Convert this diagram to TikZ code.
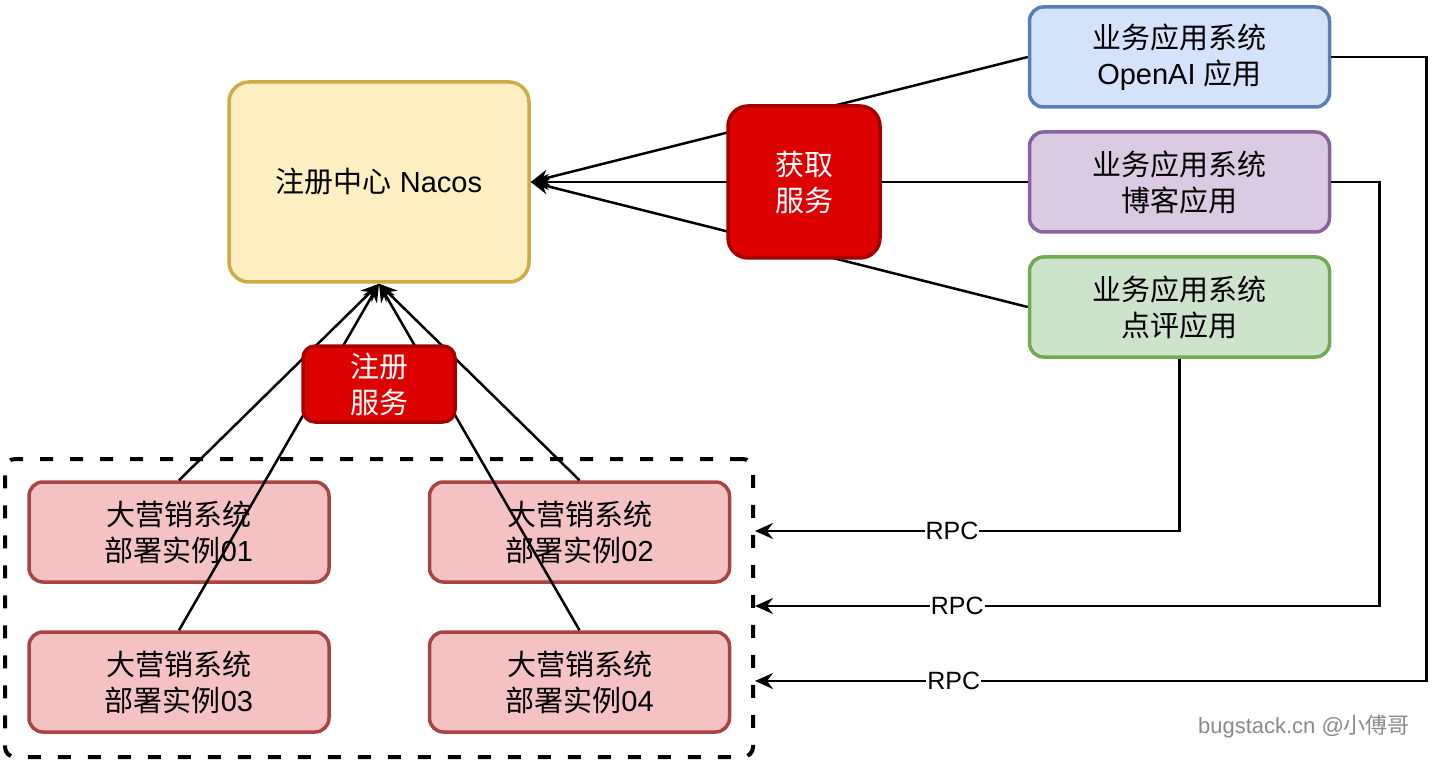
\documentclass[tikz,border=0pt]{standalone}
\usepackage{fontspec}
\setmainfont{Liberation Sans}
\newfontfamily\cjk{Noto Sans CJK SC}
\usetikzlibrary{arrows.meta}
\definecolor{nacosfill}{HTML}{FEEFC3}
\definecolor{nacosdraw}{HTML}{CFAB46}
\definecolor{bluefill}{HTML}{D4E3FA}
\definecolor{bluedraw}{HTML}{5B7DB5}
\definecolor{purplefill}{HTML}{DACAE2}
\definecolor{purpledraw}{HTML}{8A629D}
\definecolor{greenfill}{HTML}{CDE3CC}
\definecolor{greendraw}{HTML}{72A954}
\definecolor{pinkfill}{HTML}{F4C2C2}
\definecolor{pinkdraw}{HTML}{AA4444}
\definecolor{redfill}{HTML}{DD0000}
\definecolor{reddraw}{HTML}{A50000}
\definecolor{footgray}{HTML}{8A8A8A}
\begin{document}
\begin{tikzpicture}[x=1pt,y=-1pt,
  txt/.style={font=\fontsize{29}{36}\selectfont, align=center, inner sep=0pt},
  box/.style={txt, draw, rounded corners=14pt, line width=3.5pt, minimum width=300pt, minimum height=100pt},
  redbox/.style={txt, draw=reddraw, fill=redfill, text=white, line width=3.5pt},
  conn/.style={line width=2.5pt, -{Stealth[length=18pt,width=16pt,inset=6pt]}},
  rpc/.style={fill=white, inner sep=1pt, font=\fontsize{25}{30}\selectfont},
  cluster/.style={draw, dashed, dash pattern=on 13pt off 17pt, line width=4pt, rounded corners=10pt, minimum width=748pt, minimum height=298pt}
]
\useasboundingbox (0,0) rectangle (1436,770);
\fill[white] (0,0) rectangle (1436,770);

% cluster
\node[cluster] (cl) at (379,608) {};

% Nacos
\node[box, fill=nacosfill, draw=nacosdraw, minimum height=200pt, rounded corners=20pt] (nacos) at (379,182) {{\cjk 注册中心} Nacos};

% business apps
\node[box, fill=bluefill, draw=bluedraw] (oa) at (1179.5,57) {{\cjk 业务应用系统}\\OpenAI {\cjk 应用}};
\node[box, fill=purplefill, draw=purpledraw] (bp) at (1179.5,182) {{\cjk 业务应用系统}\\{\cjk 博客应用}};
\node[box, fill=greenfill, draw=greendraw] (dp) at (1179.5,307) {{\cjk 业务应用系统}\\{\cjk 点评应用}};

% instances
\node[box, fill=pinkfill, draw=pinkdraw] (i1) at (179,532) {{\cjk 大营销系统}\\{\cjk 部署实例}01};
\node[box, fill=pinkfill, draw=pinkdraw] (i2) at (579.5,532) {{\cjk 大营销系统}\\{\cjk 部署实例}02};
\node[box, fill=pinkfill, draw=pinkdraw] (i3) at (179,682) {{\cjk 大营销系统}\\{\cjk 部署实例}03};
\node[box, fill=pinkfill, draw=pinkdraw] (i4) at (579.5,682) {{\cjk 大营销系统}\\{\cjk 部署实例}04};

% registration connectors
\draw[conn] (i1.north) -- (nacos.south);
\draw[conn] (i3.north) -- (nacos.south);
\draw[conn] (i2.north) -- (nacos.south);
\draw[conn] (i4.north) -- (nacos.south);

% discovery connectors
\draw[conn] (oa.west) -- (nacos.east);
\draw[conn] (bp.west) -- (nacos.east);
\draw[conn] (dp.west) -- (nacos.east);

% RPC connectors
\path (cl.east) ++(0,-77) coordinate (r1);
\path (cl.east) ++(0,-2) coordinate (r2);
\path (cl.east) ++(0,73) coordinate (r3);
\draw[conn] (dp.south) |- (r1) node[rpc, pos=0.768] {RPC};
\draw[conn] (bp.east) -- ++(48,0) |- (r2) node[rpc, pos=0.838] {RPC};
\draw[conn] (oa.east) -- ++(95,0) |- (r3) node[rpc, pos=0.852] {RPC};

% red labels
\node[redbox, rounded corners=20pt, minimum width=152pt, minimum height=152pt] (get) at (804,182) {{\cjk 获取}\\{\cjk 服务}};
\node[redbox, rounded corners=12pt, minimum width=152pt, minimum height=76pt] (reg) at (379,384) {{\cjk 注册}\\{\cjk 服务}};

% footer
\node[font=\fontsize{22}{26}\selectfont, text=footgray, inner sep=0pt] (ft) at (1304,727) {bugstack.cn @{\cjk 小傅哥}};
\end{tikzpicture}
\end{document}
